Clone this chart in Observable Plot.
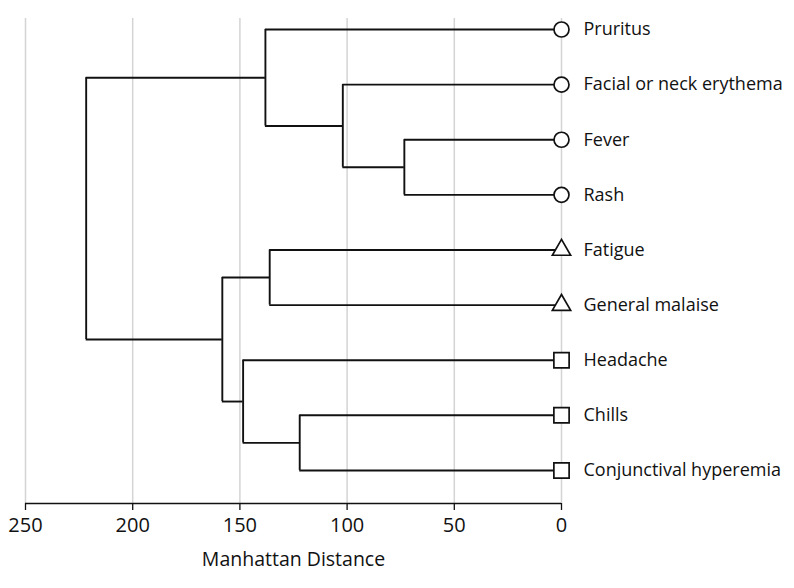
<!DOCTYPE html>
<html>
<head>
<meta charset="utf-8">
<script src="https://cdn.jsdelivr.net/npm/d3@7"></script>
<script src="https://cdn.jsdelivr.net/npm/@observablehq/plot@0.6"></script>
<style>
  html, body { margin: 0; padding: 0; background: #fff; }
  #chart svg { font-family: "Open Sans", Roboto, "DejaVu Sans", sans-serif; }
</style>
</head>
<body>
<div id="chart"></div>
<script>
// Leaves, top to bottom
const leaves = ["Pruritus", "Facial or neck erythema", "Fever", "Rash", "Fatigue", "General malaise", "Headache", "Chills", "Conjunctival hyperemia"];
const leafSymbols = ["circle", "circle", "circle", "circle", "triangle", "triangle", "square", "square", "square"];

// Linkage: merge i joins mergeLeft[i] and mergeRight[i] at distance mergeHeight[i]
const mergeIds    = ["m0", "m1", "m2", "m3", "m4", "m5", "m6", "m7"];
const mergeLeft   = ["Fever", "Facial or neck erythema", "Pruritus", "Fatigue", "Chills", "Headache", "m3", "m2"];
const mergeRight  = ["Rash", "m0", "m1", "General malaise", "Conjunctival hyperemia", "m4", "m5", "m6"];
const mergeHeight = [73.3, 102, 138.1, 136.1, 122.1, 148.5, 158.2, 221.7];

const xTicks = [0, 50, 100, 150, 200, 250];

// Layout: leaves at distance 0 and row index; merges at their height and mean row of children
const pos = new Map();
leaves.forEach((name, i) => pos.set(name, {x: 0, y: i}));
const hSegs = [], vSegs = [];
mergeIds.forEach((id, i) => {
  const a = pos.get(mergeLeft[i]), b = pos.get(mergeRight[i]), h = mergeHeight[i];
  hSegs.push({x1: a.x, x2: h, y: a.y});
  hSegs.push({x1: b.x, x2: h, y: b.y});
  vSegs.push({x: h, y1: a.y, y2: b.y});
  pos.set(id, {x: h, y: (a.y + b.y) / 2});
});
const leafData = leaves.map((name, i) => ({name, y: i, symbol: leafSymbols[i]}));
const symbolR = {circle: 7.5, triangle: 6.8, square: 8.6};

const yDomain = [-0.2, 8.6];
const font = "'Open Sans', Roboto, 'DejaVu Sans', sans-serif";

const chart = Plot.plot({
  width: 794,
  height: 588,
  marginLeft: 25,
  marginRight: 233,
  marginTop: 18,
  marginBottom: 85,
  style: {fontSize: "18px", fontFamily: font, color: "#111"},
  x: {domain: [0, 250], reverse: true},
  y: {domain: yDomain, reverse: true, axis: null},
  r: {type: "identity"},
  symbol: {domain: ["circle", "triangle", "square"], range: ["circle", "triangle", "square"]},
  marks: [
    Plot.gridX(xTicks, {stroke: "#d4d4d4", strokeOpacity: 1, strokeWidth: 1.5}),
    Plot.ruleY([yDomain[1]], {stroke: "#111", strokeWidth: 1.5}),
    Plot.axisX(xTicks, {tickSize: 7, tickPadding: 7, fontSize: 20, stroke: "#111",
      strokeWidth: 1.3, label: null}),
    Plot.axisX({ticks: [], tickSize: 0, label: "Manhattan Distance", labelAnchor: "center",
      labelOffset: 62, labelArrow: "none", fontSize: 19.5}),
    Plot.ruleY(hSegs, {x1: "x1", x2: "x2", y: "y", stroke: "#111", strokeWidth: 1.9}),
    Plot.ruleX(vSegs, {x: "x", y1: "y1", y2: "y2", stroke: "#111", strokeWidth: 1.9}),
    Plot.dot(leafData, {x: 0, y: "y", symbol: "symbol", r: d => symbolR[d.symbol], fill: "white", stroke: "#111", strokeWidth: 1.7}),
    Plot.text(leafData, {x: 0, y: "y", text: "name", dx: 22, textAnchor: "start", fontSize: 18, fill: "#111"})
  ]
});
document.getElementById("chart").appendChild(chart);
</script>
</body>
</html>
